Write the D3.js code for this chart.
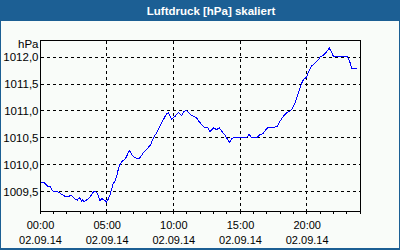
<!DOCTYPE html>
<html>
<head>
<meta charset="utf-8">
<script src="https://cdn.jsdelivr.net/npm/d3@7"></script>
<style>
  html, body { margin: 0; padding: 0; background: #fff; }
  svg { display: block; }
</style>
</head>
<body>
<div id="chart"></div>
<script>
var TEXTFONT = '"Liberation Sans", Arial, sans-serif';
var W = 400, H = 250;
var FRAME = { 'left' : 40, 'right' : 360, 'top' : 40, 'bottom' : 211 };

var TITLE = 'Luftdruck [hPa] skaliert';
var UNIT = 'hPa';
var DATE = '02.09.14';
// y grid / tick values and their labels
var yTicks = [1009.5, 1010.0, 1010.5, 1011.0, 1011.5, 1012.0];
var yTickLabels = ['1009,5', '1010,0', '1010,5', '1011,0', '1011,5', '1012,0'];
// x labelled hours
var xTicks = [0, 5, 10, 15, 20];
var xTickLabels = ['00:00', '05:00', '10:00', '15:00', '20:00'];

// readings: hour of day and pressure in hPa
var hours = [0.05, 0.2, 0.38, 0.58, 0.75, 0.88, 1.05, 1.2, 1.37, 1.55, 1.75, 1.93, 2.12, 2.3, 2.45,
  2.63, 2.8, 2.95, 3.13, 3.2, 3.32, 3.5, 3.62, 3.8, 3.95, 4.07, 4.25, 4.4, 4.5, 4.63, 4.75, 4.88,
  5.0, 5.08, 5.2, 5.3, 5.38, 5.5, 5.63, 5.75, 5.87, 6.0, 6.13, 6.25, 6.37, 6.5, 6.62, 6.7, 6.88,
  7.13, 7.37, 7.5, 7.75, 8.0, 8.3, 8.5, 8.75, 9.0, 9.25, 9.5, 9.62, 9.88, 10.13, 10.37, 10.63,
  10.8, 11.0, 11.25, 11.5, 11.75, 11.87, 12.13, 12.37, 12.55, 12.75, 13.0, 13.25, 13.45, 13.63,
  13.88, 14.0, 14.2, 14.38, 14.55, 14.87, 15.13, 15.5, 15.7, 15.83, 16.3, 16.5, 16.7, 16.88,
  17.12, 17.63, 17.8, 18.0, 18.25, 18.5, 18.88, 19.13, 19.37, 19.63, 19.75, 20.0, 20.2, 20.38,
  20.63, 20.87, 21.0, 21.25, 21.5, 21.7, 21.88, 22.0, 22.37, 23.03, 23.2, 23.38, 23.81];
var pressure = [1009.667, 1009.678, 1009.654, 1009.604, 1009.604, 1009.530, 1009.493, 1009.511,
  1009.493, 1009.463, 1009.431, 1009.407, 1009.407, 1009.431, 1009.407, 1009.357, 1009.344,
  1009.389, 1009.326, 1009.344, 1009.315, 1009.344, 1009.370, 1009.419, 1009.481, 1009.511,
  1009.481, 1009.407, 1009.326, 1009.370, 1009.357, 1009.333, 1009.307, 1009.344, 1009.407,
  1009.481, 1009.556, 1009.654, 1009.696, 1009.789, 1009.913, 1010.006, 1010.061, 1010.080,
  1010.098, 1010.154, 1010.228, 1010.270, 1010.191, 1010.130, 1010.111, 1010.130, 1010.222,
  1010.283, 1010.376, 1010.500, 1010.593, 1010.715, 1010.839, 1010.950, 1010.969, 1010.848,
  1010.900, 1010.974, 1010.913, 1010.996, 1011.006, 1010.941, 1010.900, 1010.870, 1010.820,
  1010.746, 1010.685, 1010.700, 1010.617, 1010.685, 1010.654, 1010.685, 1010.622, 1010.548,
  1010.500, 1010.413, 1010.487, 1010.511, 1010.511, 1010.500, 1010.511, 1010.567, 1010.511,
  1010.511, 1010.561, 1010.574, 1010.635, 1010.696, 1010.700, 1010.715, 1010.807, 1010.900,
  1010.963, 1011.024, 1011.148, 1011.333, 1011.519, 1011.580, 1011.635, 1011.765, 1011.839,
  1011.889, 1011.950, 1012.000, 1012.033, 1012.104, 1012.167, 1012.085, 1012.019, 1012.011,
  1012.011, 1011.944, 1011.796, 1011.796];

/** Snap a coordinate to the middle of a pixel for crisp 1px lines. */
function crisp(v) {
    return Math.floor(v) + 0.5;
};

window.addEventListener('DOMContentLoaded', function () {
    var svg = d3.select('#chart').append('svg').attr('width', W).attr('height', H)
        .style('font-family', TEXTFONT);

    // blue frame + title bar, light panel inside
    svg.append('rect').attr('width', W).attr('height', H).attr('fill', '#1c5f94');
    svg.append('rect').attr('x', 1).attr('y', 21).attr('width', W - 2).attr('height', H - 23)
        .attr('fill', '#f9fcf9');
    svg.append('text').attr('x', 211).attr('y', 14.5).attr('text-anchor', 'middle')
        .attr('fill', '#fff').style('font-weight', 'bold').style('font-size', '11.5px').text(TITLE);

    var xScale = d3.scaleLinear().domain([0, 24]).range([FRAME.left, FRAME.right]);
    var yScale = d3.scaleLinear().domain([1009.14, 1012.32]).range([FRAME.bottom, FRAME.top]);

    var grid = svg.append('g').attr('stroke', '#000').attr('stroke-dasharray', '3 3')
        .attr('shape-rendering', 'crispEdges');
    yTicks.forEach(function (v) {
        var y = crisp(yScale(v));
        grid.append('line').attr('x1', FRAME.left + 1).attr('x2', FRAME.right).attr('y1', y).attr('y2', y);
    });
    xTicks.slice(1).forEach(function (h) {
        var x = crisp(xScale(h));
        grid.append('line').attr('x1', x).attr('x2', x).attr('y1', FRAME.top + 1).attr('y2', FRAME.bottom);
    });

    // plot frame
    var frame = svg.append('g').attr('stroke', '#000').attr('fill', 'none').attr('shape-rendering', 'crispEdges');
    frame.append('rect').attr('x', FRAME.left + 0.5).attr('y', FRAME.top + 0.5)
        .attr('width', FRAME.right - FRAME.left).attr('height', FRAME.bottom - FRAME.top);
    d3.range(0, 25).forEach(function (h) {
        var x = crisp(xScale(h));
        frame.append('line').attr('x1', x).attr('x2', x).attr('y1', FRAME.bottom).attr('y2', FRAME.bottom + 3);
    });

    // data line
    var data = hours.map(function (h, i) { return { 'h' : h, 'v' : pressure[i] }; });
    var line = d3.line().x(function (d) { return xScale(d.h); }).y(function (d) { return yScale(d.v); });
    svg.append('path').datum(data).attr('d', line).attr('fill', 'none').attr('stroke', '#0000ff')
        .attr('stroke-width', 1).attr('shape-rendering', 'crispEdges');

    // y labels
    var yl = svg.append('g').style('font-size', '11.5px').attr('fill', '#000').attr('text-anchor', 'end');
    yTicks.forEach(function (v, i) {
        yl.append('text').attr('x', 38.5).attr('y', yScale(v) + 4).text(yTickLabels[i]);
    });
    yl.append('text').attr('x', 38.5).attr('y', 48).text(UNIT);

    // x labels
    var xl = svg.append('g').style('font-size', '11px').attr('fill', '#000').attr('text-anchor', 'middle');
    xTicks.forEach(function (h, i) {
        var x = xScale(h) + 0.5;
        xl.append('text').attr('x', x).attr('y', 229).text(xTickLabels[i]);
        xl.append('text').attr('x', x).attr('y', 243.5).text(DATE);
    });
});
</script>
</body>
</html>
